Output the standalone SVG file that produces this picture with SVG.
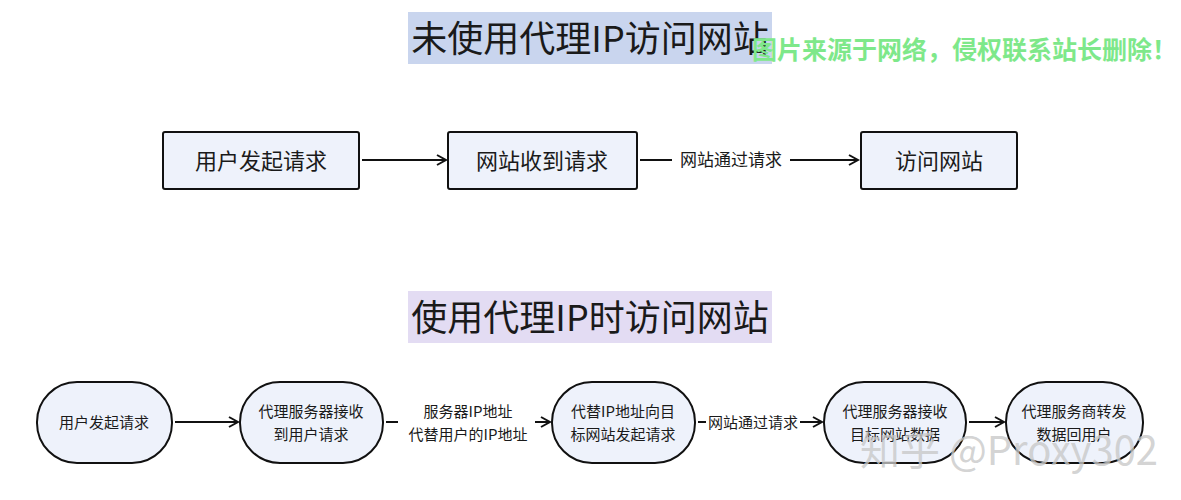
<svg xmlns="http://www.w3.org/2000/svg" width="1181" height="500" viewBox="0 0 1181 500">
<style>
text{font-family:"Noto Sans CJK SC","Noto Sans",sans-serif;fill:#1a1a1a}
.box{fill:#eef2fb;stroke:#111;stroke-width:2}
.t{font-size:22px;text-anchor:middle}
.s{font-size:15px;text-anchor:middle}
.ttl{font-size:36px;text-anchor:middle}
.ln{stroke:#111;stroke-width:2;fill:none}
</style>
<defs><marker id="ah" markerWidth="12" markerHeight="12" refX="10" refY="6" orient="auto" markerUnits="userSpaceOnUse"><path d="M1,1 L10,6 L1,11" fill="none" stroke="#111" stroke-width="2"/></marker></defs>
<rect width="1181" height="500" fill="#fff"/>
<rect x="408" y="12" width="364" height="52" fill="#c9d5ee"/>
<text class="ttl" x="590" y="52">未使用代理IP访问网站</text>
<rect x="408" y="291" width="364" height="52" fill="#e3dcf3"/>
<text class="ttl" x="590" y="331">使用代理IP时访问网站</text>
<g id="n1"><rect class="box" x="163" y="132" width="196" height="57" rx="2"/><text class="t" x="261" y="169">用户发起请求</text></g>
<g id="n2"><rect class="box" x="448" y="132" width="189" height="57" rx="2"/><text class="t" x="542" y="169">网站收到请求</text></g>
<g id="n3"><rect class="box" x="861" y="132" width="156" height="57" rx="2"/><text class="t" x="939" y="169">访问网站</text></g>
<g id="m1"><rect class="box" x="37" y="382" width="135" height="81" rx="40"/><text class="s" x="104" y="428">用户发起请求</text></g>
<g id="m2"><rect class="box" x="240" y="382" width="143" height="81" rx="40"/><text class="s" x="311" y="417">代理服务器接收</text><text class="s" x="311" y="440">到用户请求</text></g>
<g id="m3"><rect class="box" x="552" y="382" width="143" height="81" rx="40"/><text class="s" x="623" y="417">代替IP地址向目</text><text class="s" x="623" y="440">标网站发起请求</text></g>
<g id="m4"><rect class="box" x="824" y="382" width="142" height="81" rx="40"/><text class="s" x="895" y="417">代理服务器接收</text><text class="s" x="895" y="440">目标网站数据</text></g>
<g id="m5"><rect class="box" x="1006" y="382" width="137" height="81" rx="40"/><text class="s" x="1074" y="417">代理服务商转发</text><text class="s" x="1074" y="440">数据回用户</text></g>
<g id="connectors">
<line class="ln" x1="362" y1="160" x2="446" y2="160" marker-end="url(#ah)"/>
<line class="ln" x1="640" y1="160" x2="672" y2="160"/>
<text x="731" y="166" style="font-size:17px;text-anchor:middle">网站通过请求</text>
<line class="ln" x1="790" y1="160" x2="858" y2="160" marker-end="url(#ah)"/>
<line class="ln" x1="175" y1="422" x2="238" y2="422" marker-end="url(#ah)"/>
<line class="ln" x1="386" y1="422" x2="398" y2="422"/>
<text class="s" x="468" y="417">服务器IP地址</text>
<text class="s" x="468" y="440">代替用户的IP地址</text>
<line class="ln" x1="535" y1="422" x2="550" y2="422" marker-end="url(#ah)"/>
<line class="ln" x1="698" y1="422" x2="706" y2="422"/>
<text class="s" x="753" y="428">网站通过请求</text>
<line class="ln" x1="800" y1="422" x2="822" y2="422" marker-end="url(#ah)"/>
<line class="ln" x1="969" y1="422" x2="1004" y2="422" marker-end="url(#ah)"/>
</g>
<text x="752" y="59" style="font-size:25px;fill:#7ee88a;font-weight:bold">图片来源于网络，侵权联系站长删除！</text>
<text x="860" y="465" style="font-size:40px;fill:#c8c8c8;fill-opacity:0.8">知乎 @Proxy302</text>
</svg>
